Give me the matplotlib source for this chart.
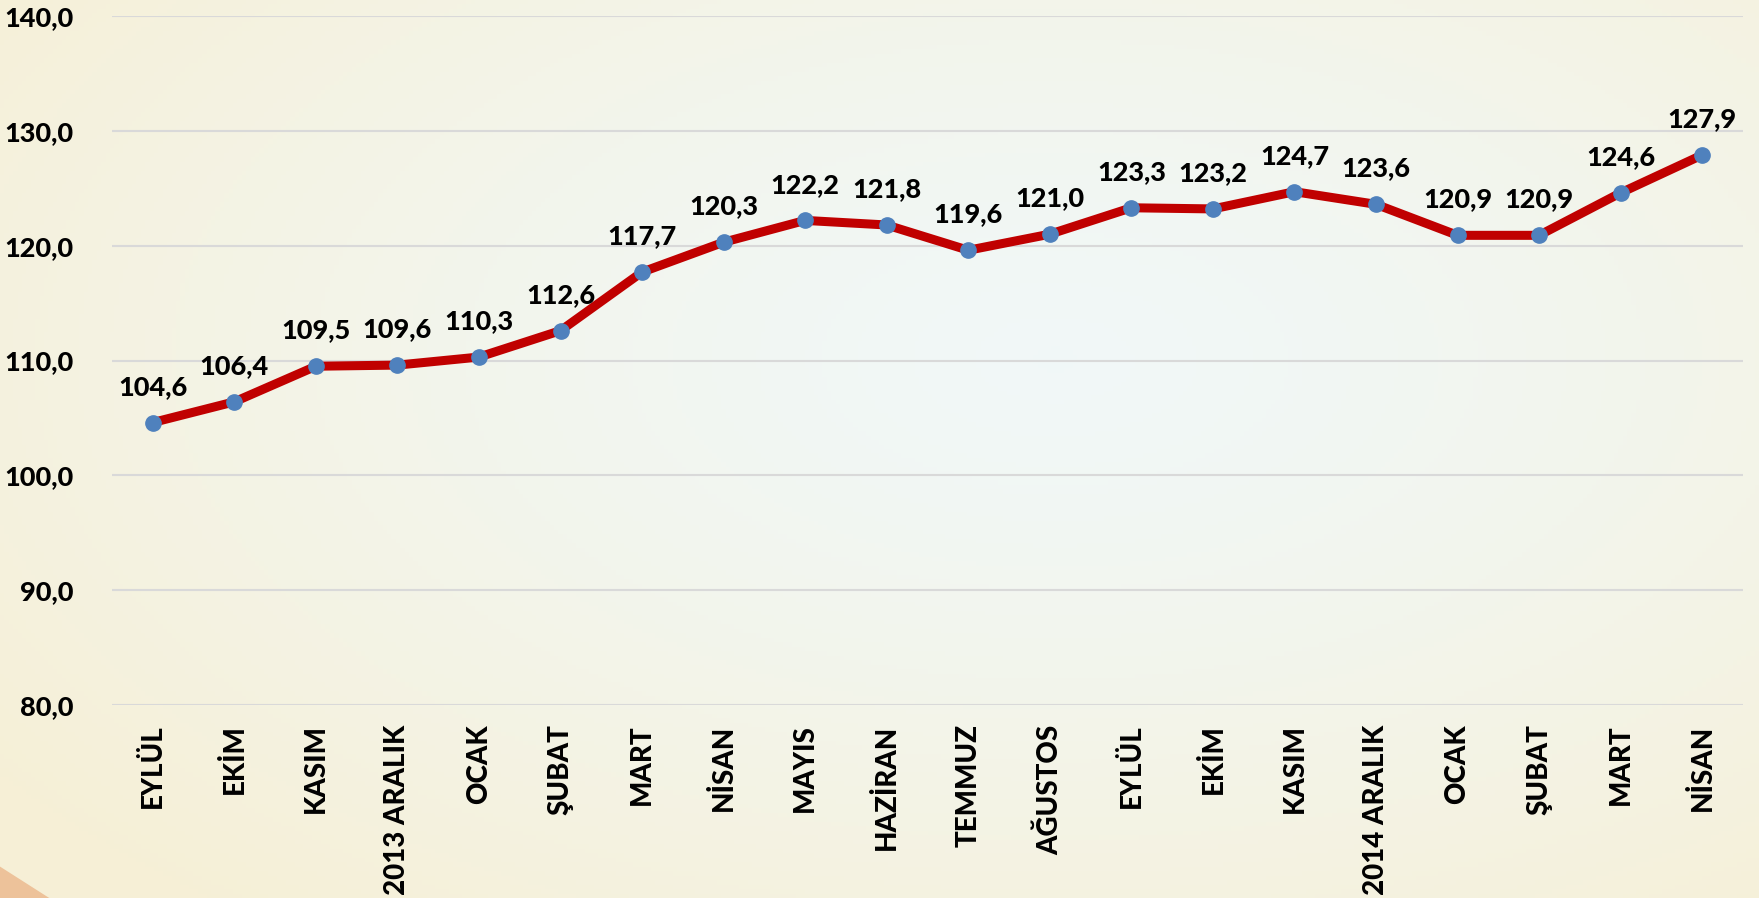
import numpy as np
import matplotlib.pyplot as plt
from matplotlib.patches import Polygon

months = ["EYLÜL", "EKİM", "KASIM", "2013 ARALIK", "OCAK", "ŞUBAT", "MART",
          "NİSAN", "MAYIS", "HAZİRAN", "TEMMUZ", "AĞUSTOS", "EYLÜL", "EKİM",
          "KASIM", "2014 ARALIK", "OCAK", "ŞUBAT", "MART", "NİSAN"]
values = [104.6, 106.4, 109.5, 109.6, 110.3, 112.6, 117.7, 120.3, 122.2, 121.8,
          119.6, 121.0, 123.3, 123.2, 124.7, 123.6, 120.9, 120.9, 124.6, 127.9]
yticks = [80, 90, 100, 110, 120, 130, 140]

plt.rcParams['font.family'] = ['Lato', 'DejaVu Sans']

fig = plt.figure(figsize=(17.59, 8.98), dpi=100)

# soft background: cream edges, pale bluish centre
bg = fig.add_axes([0, 0, 1, 1], zorder=-10)
yy, xx = np.mgrid[0:1:200j, 0:1:400j]
r = np.sqrt(((xx - 0.6) / 0.75) ** 2 + ((yy - 0.6) / 0.8) ** 2)
r = np.clip(r, 0, 1) ** 1.3
centre = np.array([0.945, 0.972, 0.972])
edge = np.array([0.965, 0.94, 0.84])
img = centre[None, None, :] * (1 - r[..., None]) + edge[None, None, :] * r[..., None]
bg.imshow(img, extent=[0, 1, 0, 1], aspect='auto', origin='lower')
bg.add_patch(Polygon([[0, 0], [0, 0.035], [0.012, 0.02], [0.028, 0]],
                     closed=True, color='#EDC29A', lw=0))
bg.set_xlim(0, 1)
bg.set_ylim(0, 1)
bg.axis('off')

ax = fig.add_axes([112 / 1759, 1 - 705 / 898, (1743 - 112) / 1759, (705 - 16) / 898])
ax.patch.set_alpha(0)
x = np.arange(len(values))
ax.plot(x, values, color='#C00000', lw=6.5, zorder=3, solid_joinstyle='round')
ax.plot(x, values, 'o', color='#4F81BD', markersize=11, zorder=4)

for xi, v in zip(x, values):
    ax.annotate(f"{v:.1f}".replace('.', ','), (xi, v), xytext=(0, 20),
                textcoords='offset points', ha='center', va='baseline',
                fontsize=19.5, fontweight='black', color='black')

ax.set_xlim(-0.5, len(values) - 0.5)
ax.set_ylim(80, 140)
ax.set_yticks(yticks)
ax.set_yticklabels([f"{t:.1f}".replace('.', ',') for t in yticks],
                   fontsize=19.5, fontweight='black')
ax.set_xticks(x)
ax.set_xticklabels(months, rotation=90, fontsize=20, fontweight='black')
ax.tick_params(length=0)
ax.tick_params(axis='y', pad=28)
ax.tick_params(axis='x', pad=14)
ax.grid(axis='y', color='#D9D9D9', lw=1.5)
ax.set_axisbelow(True)
for s in ax.spines.values():
    s.set_visible(False)

fig.savefig('out.png', dpi=100)
